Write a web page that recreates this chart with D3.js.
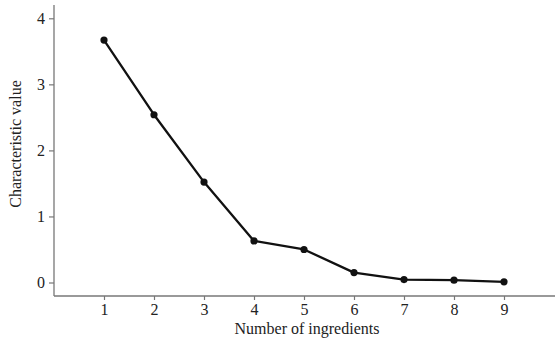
<!DOCTYPE html>
<html>
<head>
<meta charset="utf-8">
<script src="https://cdn.jsdelivr.net/npm/d3@7/dist/d3.min.js"></script>
<style>
  html, body { margin: 0; padding: 0; background: #fff; }
  svg { display: block; }
  text { font-family: "Liberation Serif", "Times New Roman", serif; fill: #222; }
</style>
</head>
<body>
<svg id="chart" width="559" height="342"></svg>
<script>
// Number of ingredients vs. characteristic value (scree plot)
const ingredients = [1, 2, 3, 4, 5, 6, 7, 8, 9];
const charValues = [3.67, 2.54, 1.52, 0.63, 0.50, 0.15, 0.045, 0.035, 0.01];
const yTicks = [0, 1, 2, 3, 4];
const xTicks = [1, 2, 3, 4, 5, 6, 7, 8, 9];

const svg = d3.select("#chart");
const axisColor = "#777";

const x = d3.scaleLinear().domain([0, 10]).range([54, 554]);
const y = d3.scaleLinear().domain([0, 4]).range([282.5, 18.3]);

// y axis
const yAxis = svg.append("g")
  .attr("transform", "translate(54,0)")
  .call(d3.axisLeft(y).tickValues(yTicks).tickFormat(d3.format("d")).tickSize(5).tickSizeOuter(0));
yAxis.select(".domain").remove();
yAxis.append("line").attr("x1", 0).attr("x2", 0).attr("y1", 5).attr("y2", 296)
  .attr("stroke", axisColor).attr("stroke-width", 1.3);
yAxis.selectAll(".tick line").attr("stroke", axisColor).attr("stroke-width", 1.2);
yAxis.selectAll(".tick text").attr("font-size", 16).attr("x", -9).attr("fill", "#222")
  .style("font-family", "Liberation Serif, serif");

// x axis
const xAxis = svg.append("g")
  .attr("transform", "translate(0,296)")
  .call(d3.axisBottom(x).tickValues(xTicks).tickFormat(d3.format("d")).tickSize(4).tickSizeOuter(0));
xAxis.select(".domain").remove();
xAxis.append("line").attr("x1", 54).attr("x2", 555).attr("y1", 0).attr("y2", 0)
  .attr("stroke", axisColor).attr("stroke-width", 1.3);
xAxis.selectAll(".tick line").attr("stroke", axisColor).attr("stroke-width", 1.2);
xAxis.selectAll(".tick text").attr("font-size", 16).attr("y", 8).attr("fill", "#222")
  .style("font-family", "Liberation Serif, serif");

// axis titles
svg.append("text")
  .attr("x", 307).attr("y", 334)
  .attr("text-anchor", "middle")
  .attr("font-size", 16)
  .text("Number of ingredients");

svg.append("text")
  .attr("transform", "translate(21,144) rotate(-90)")
  .attr("text-anchor", "middle")
  .attr("font-size", 16)
  .text("Characteristic value");

// line and points
const pts = ingredients.map((d, i) => [d, charValues[i]]);
svg.append("path")
  .datum(pts)
  .attr("fill", "none")
  .attr("stroke", "#111")
  .attr("stroke-width", 2.3)
  .attr("stroke-linejoin", "round")
  .attr("d", d3.line().x(d => x(d[0])).y(d => y(d[1])));

svg.selectAll("circle.pt")
  .data(pts)
  .join("circle")
  .attr("class", "pt")
  .attr("cx", d => x(d[0]))
  .attr("cy", d => y(d[1]))
  .attr("r", 3.6)
  .attr("fill", "#111");
</script>
</body>
</html>
